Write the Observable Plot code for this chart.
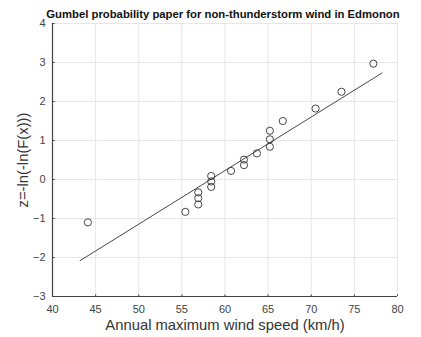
<!DOCTYPE html>
<html>
<head>
<meta charset="utf-8">
<script src="https://cdn.jsdelivr.net/npm/d3@7"></script>
<script src="https://cdn.jsdelivr.net/npm/@observablehq/plot@0.6"></script>
<style>
  body { margin: 0; background: #fff; }
  #chart svg { display: block; }
</style>
</head>
<body>
<div id="chart"></div>
<script>
const title = "Gumbel probability paper for non-thunderstorm wind in Edmonon";
const xLabel = "Annual maximum wind speed (km/h)";
const yLabel = "z=-ln(-ln(F(x)))";

const speed = [44.1, 55.4, 56.9, 56.9, 56.9, 58.4, 58.4, 58.4, 60.7, 62.2, 62.2, 63.7, 65.2, 65.2, 65.2, 66.7, 70.5, 73.5, 77.2];
const zValue = [-1.10, -0.83, -0.64, -0.48, -0.33, -0.19, -0.05, 0.09, 0.22, 0.37, 0.51, 0.67, 0.84, 1.03, 1.25, 1.50, 1.82, 2.25, 2.97];

const fitX = [43.2, 78.2];
const fitY = [-2.08, 2.73];

const xTicks = [40, 45, 50, 55, 60, 65, 70, 75, 80];
const yTicks = [-3, -2, -1, 0, 1, 2, 3, 4];

const points = speed.map((s, i) => ({x: s, z: zValue[i]}));
const fit = fitX.map((x, i) => ({x, z: fitY[i]}));

const font = "Liberation Sans, Arial, Helvetica, sans-serif";

const chart = Plot.plot({
  width: 421,
  height: 337,
  marginLeft: 52,
  marginRight: 24,
  marginTop: 23,
  marginBottom: 41,
  style: {fontFamily: font, background: "#fff"},
  x: {type: "linear", domain: [40, 80], ticks: xTicks},
  y: {type: "linear", domain: [-3, 4], ticks: yTicks},
  marks: [
    Plot.gridX(xTicks, {stroke: "#e6e6e6", strokeOpacity: 1, strokeWidth: 1}),
    Plot.gridY(yTicks, {stroke: "#e6e6e6", strokeOpacity: 1, strokeWidth: 1}),
    Plot.axisX(xTicks, {tickSize: 0, tickPadding: 9, fontSize: 11, fill: "#444", label: null}),
    Plot.axisY(yTicks, {tickSize: 0, tickPadding: 7, fontSize: 11, fill: "#444", label: null}),
    Plot.ruleX(xTicks, {x: d => d, y1: -3, y2: -2.96, stroke: "#444", strokeWidth: 1}),
    Plot.ruleY(yTicks, {y: d => d, x1: 40, x2: 40.3, stroke: "#444", strokeWidth: 1}),
    Plot.ruleX([40], {stroke: "#444", strokeWidth: 1.2}),
    Plot.ruleY([-3], {stroke: "#444", strokeWidth: 1.2}),
    Plot.line(fit, {x: "x", y: "z", stroke: "#333", strokeWidth: 0.9}),
    Plot.dot(points, {x: "x", y: "z", r: 3.6, stroke: "#333", strokeWidth: 0.9, fill: "none"}),
    Plot.text([title], {frameAnchor: "top", lineAnchor: "bottom", dx: -2, dy: -6, fontSize: 11.3, fontWeight: "bold", fill: "#111", text: d => d}),
    Plot.text([xLabel], {frameAnchor: "bottom", dy: 33, fontSize: 14.8, fill: "#333", text: d => d}),
    Plot.text([yLabel], {frameAnchor: "left", textAnchor: "middle", dx: -29, rotate: -90, fontSize: 14.8, fill: "#333", text: d => d})
  ]
});

document.getElementById("chart").appendChild(chart);
</script>
</body>
</html>
